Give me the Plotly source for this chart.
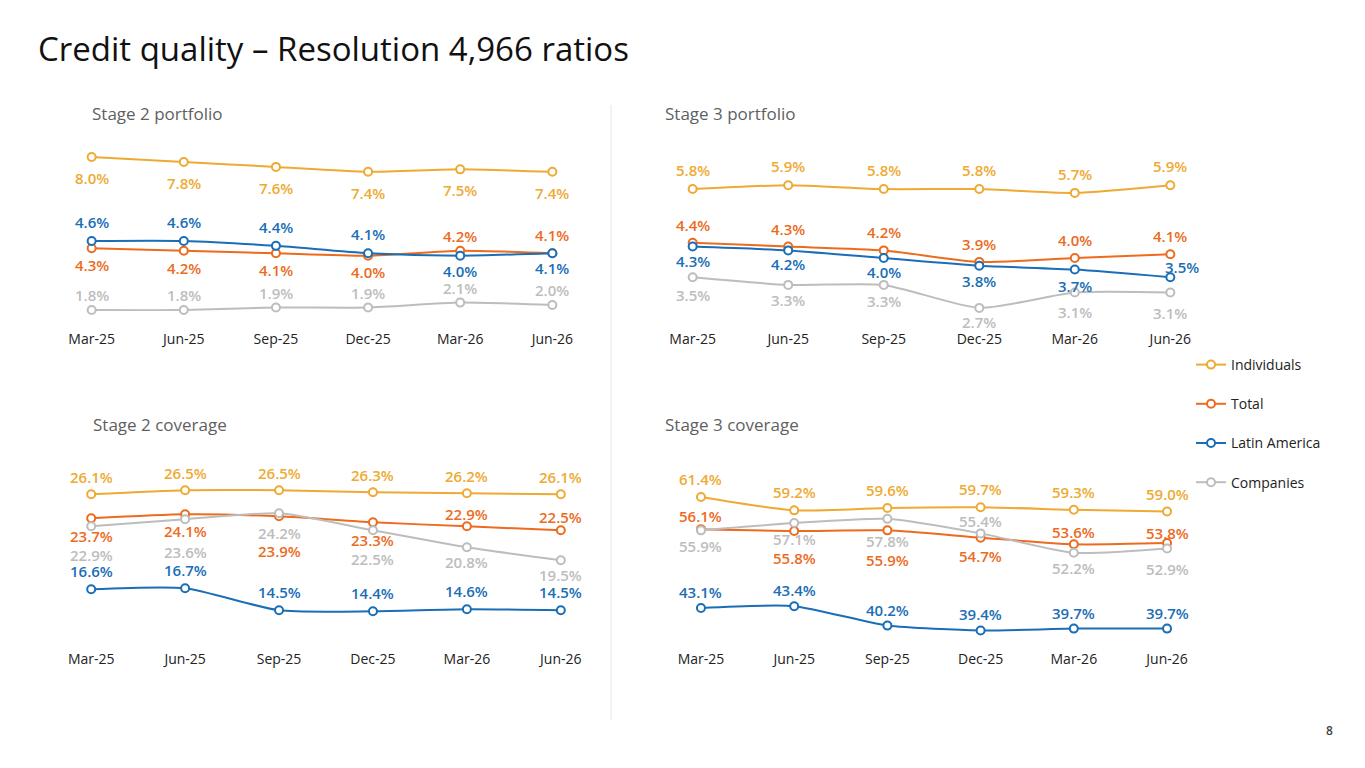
import plotly.graph_objects as go

# Quarters shown on every panel
quarters = ["Mar-25", "Jun-25", "Sep-25", "Dec-25", "Mar-26", "Jun-26"]

series_names = ["Individuals", "Total", "Latin America", "Companies"]

# Stage 2 portfolio (%)
s2_port_individuals = [8.0, 7.8, 7.6, 7.4, 7.5, 7.4]
s2_port_total = [4.3, 4.2, 4.1, 4.0, 4.2, 4.1]
s2_port_latam = [4.6, 4.6, 4.4, 4.1, 4.0, 4.1]
s2_port_companies = [1.8, 1.8, 1.9, 1.9, 2.1, 2.0]

# Stage 3 portfolio (%)
s3_port_individuals = [5.8, 5.9, 5.8, 5.8, 5.7, 5.9]
s3_port_total = [4.4, 4.3, 4.2, 3.9, 4.0, 4.1]
s3_port_latam = [4.3, 4.2, 4.0, 3.8, 3.7, 3.5]
s3_port_companies = [3.5, 3.3, 3.3, 2.7, 3.1, 3.1]

# Stage 2 coverage (%)
s2_cov_individuals = [26.1, 26.5, 26.5, 26.3, 26.2, 26.1]
s2_cov_total = [23.7, 24.1, 23.9, 23.3, 22.9, 22.5]
s2_cov_latam = [16.6, 16.7, 14.5, 14.4, 14.6, 14.5]
s2_cov_companies = [22.9, 23.6, 24.2, 22.5, 20.8, 19.5]

# Stage 3 coverage (%)
s3_cov_individuals = [61.4, 59.2, 59.6, 59.7, 59.3, 59.0]
s3_cov_total = [56.1, 55.8, 55.9, 54.7, 53.6, 53.8]
s3_cov_latam = [43.1, 43.4, 40.2, 39.4, 39.7, 39.7]
s3_cov_companies = [55.9, 57.1, 57.8, 55.4, 52.2, 52.9]

colors = {
    "Individuals": "#EEAA33",
    "Total": "#EC6B1E",
    "Latin America": "#1A6EB6",
    "Companies": "#BDBDBD",
}

FONT = "Open Sans"
W, H = 1365, 768
OFF = 8  # page body margin


def px_x(px):
    return (px - OFF) / W


def px_y(py):
    return 1 - (py - OFF) / H


# label pixel shifts per point (positive = above the marker)
panels = [
    dict(title="Stage 2 portfolio", xa="x", ya="y",
         data={"Individuals": s2_port_individuals, "Total": s2_port_total,
               "Latin America": s2_port_latam, "Companies": s2_port_companies},
         shift={"Individuals": [-21] * 6, "Total": [-17, -17, -17, -16, 15, 18],
                "Latin America": [19, 19, 19, 19, -15, -15], "Companies": [15] * 6},
         xdom=(64, 580), ydom=(140, 329), yrange=[1.03, 8.69], title_pos=(90, 113)),
    dict(title="Stage 3 portfolio", xa="x2", ya="y2",
         data={"Individuals": s3_port_individuals, "Total": s3_port_total,
               "Latin America": s3_port_latam, "Companies": s3_port_companies},
         shift={"Individuals": [19] * 6, "Total": [18] * 6,
                "Latin America": [-14, -14, -14, -15, -16, 10],
                "Companies": [-18, -15, -16, -14, -19, -20]},
         xshift={"Latin America": [0, 0, 0, 0, 0, 12]},
         xdom=(664, 1199), ydom=(140, 329), yrange=[2.15, 7.08], title_pos=(663, 113)),
    dict(title="Stage 2 coverage", xa="x3", ya="y3",
         data={"Individuals": s2_cov_individuals, "Total": s2_cov_total,
               "Latin America": s2_cov_latam, "Companies": s2_cov_companies},
         shift={"Individuals": [17] * 6, "Total": [-18, -17, -35, -18, 12, 13],
                "Latin America": [18] * 6, "Companies": [-29, -33, -20, -29, -15, -15]},
         xdom=(63, 589), ydom=(460, 649), yrange=[10.63, 29.53], title_pos=(91, 424)),
    dict(title="Stage 3 coverage", xa="x4", ya="y4",
         data={"Individuals": s3_cov_individuals, "Total": s3_cov_total,
               "Latin America": s3_cov_latam, "Companies": s3_cov_companies},
         shift={"Individuals": [18] * 6, "Total": [13, -27, -30, -18, 12, 10],
                "Latin America": [16] * 6, "Companies": [-16, -16, -22, 12, -15, -20]},
         xdom=(673, 1195), ydom=(460, 649), yrange=[36.34, 67.5], title_pos=(663, 424)),
]

fig = go.Figure()
annotations = []

for i, p in enumerate(panels):
    for name in series_names:
        vals = p["data"][name]
        fig.add_trace(go.Scatter(
            x=quarters, y=vals, xaxis=p["xa"], yaxis=p["ya"],
            mode="lines+markers", name=name,
            line=dict(color=colors[name], width=2, shape="spline", smoothing=0.6),
            marker=dict(size=8, color="white", line=dict(color=colors[name], width=2)),
            cliponaxis=False,
            showlegend=(i == 0), legendgroup=name,
            hoverinfo="skip",
        ))
        xs = p.get("xshift", {}).get(name, [0] * 6)
        for q, v, s, dx in zip(quarters, vals, p["shift"][name], xs):
            annotations.append(dict(
                x=q, y=v, xref=p["xa"], yref=p["ya"], text=f"{v:.1f}%",
                showarrow=False, yshift=s, xshift=dx,
                font=dict(family=FONT, size=15, color=colors[name], weight=600),
            ))
    tx, ty = p["title_pos"]
    annotations.append(dict(
        x=px_x(tx), y=px_y(ty), xref="paper", yref="paper", text=p["title"],
        showarrow=False, xanchor="left", yanchor="middle",
        font=dict(family=FONT, size=17, color="#5f5f5f"),
    ))

# title and page number
annotations.append(dict(
    x=px_x(36), y=px_y(48), xref="paper", yref="paper",
    text="Credit quality – Resolution 4,966 ratios", showarrow=False,
    xanchor="left", yanchor="middle",
    font=dict(family=FONT, size=33, color="#111111"),
))
annotations.append(dict(
    x=px_x(1335), y=px_y(741), xref="paper", yref="paper", text="8",
    showarrow=False, font=dict(family=FONT, size=12, color="#444444", weight=600),
))

layout_axes = {}
for i, p in enumerate(panels):
    sfx = "" if i == 0 else str(i + 1)
    x0, x1 = p["xdom"]
    y0, y1 = p["ydom"]
    layout_axes["xaxis" + sfx] = dict(
        domain=[px_x(x0), px_x(x1)], anchor="y" + sfx, range=[-0.3, 5.3],
        showgrid=False, zeroline=False, showline=False, ticks="",
        tickfont=dict(family=FONT, size=14, color="#222222"),
    )
    layout_axes["yaxis" + sfx] = dict(
        domain=[px_y(y1), px_y(y0)], anchor="x" + sfx, range=p["yrange"],
        showgrid=False, zeroline=False, showline=False, showticklabels=False,
    )

fig.update_layout(
    width=W, height=H,
    margin=dict(l=0, r=0, t=0, b=0),
    paper_bgcolor="white", plot_bgcolor="white",
    showlegend=True,
    legend=dict(
        x=px_x(1191), y=px_y(349), xanchor="left", yanchor="top",
        font=dict(family=FONT, size=14, color="#222222"),
        tracegroupgap=18, itemwidth=30, bgcolor="rgba(0,0,0,0)",
    ),
    annotations=annotations,
    shapes=[dict(type="line", xref="paper", yref="paper",
                 x0=px_x(611), x1=px_x(611), y0=px_y(720), y1=px_y(105),
                 line=dict(color="#E6E6E6", width=1))],
    **layout_axes,
)

fig.write_html("out.html")
